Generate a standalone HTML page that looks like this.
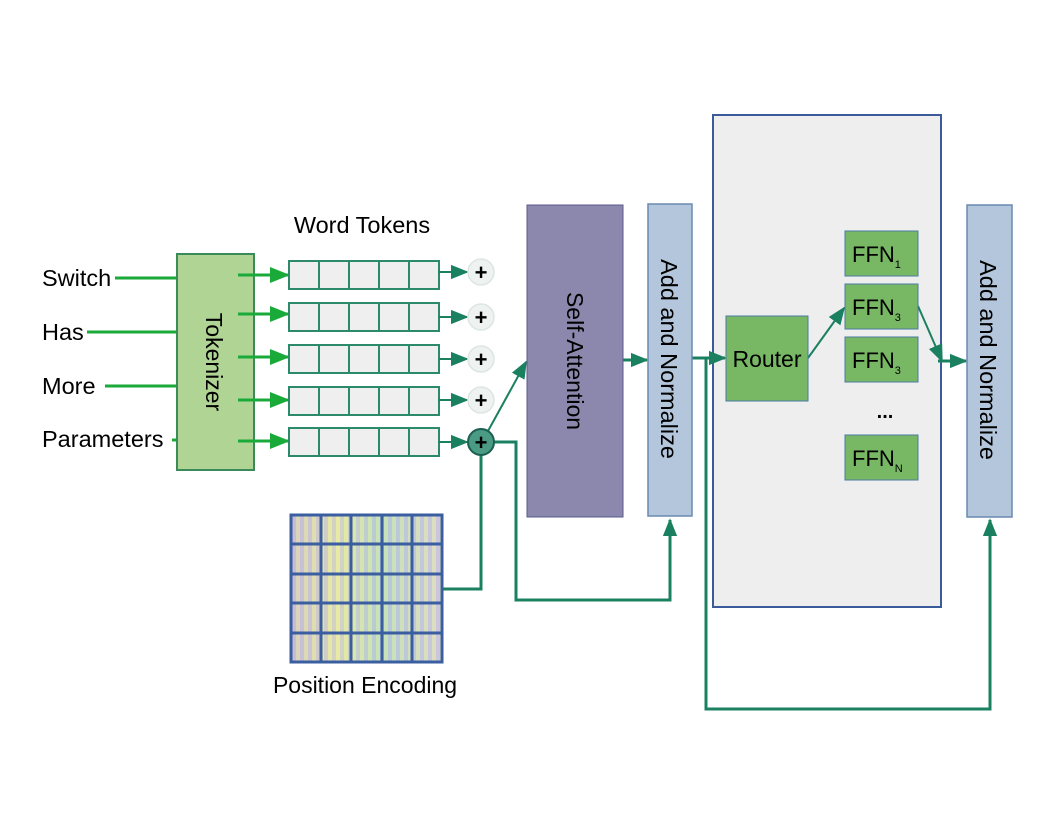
<!DOCTYPE html>
<html><head><meta charset="utf-8"><style>body{margin:0;background:#fff}svg{display:block}text{font-family:"Liberation Sans",sans-serif}</style></head><body>
<svg width="1056" height="816" viewBox="0 0 1056 816" xmlns="http://www.w3.org/2000/svg">
<defs>
<marker id="gb" viewBox="0 0 10 10" markerWidth="20" markerHeight="20" refX="9" refY="5" orient="auto" markerUnits="userSpaceOnUse"><path d="M0,1 L10,5 L0,9 Z" fill="#1aaa3a"/></marker>
<marker id="t" viewBox="0 0 10 10" markerWidth="18" markerHeight="18" refX="9" refY="5" orient="auto" markerUnits="userSpaceOnUse"><path d="M0,1 L10,5 L0,9 Z" fill="#1a8060"/></marker>
<linearGradient id="pe" x1="0" x2="1"><stop offset="0" stop-color="#c8b8d8"/><stop offset="0.3" stop-color="#e8eaa8"/><stop offset="0.6" stop-color="#a8d8d0"/><stop offset="1" stop-color="#d8d0e0"/></linearGradient>
<pattern id="st" width="8" height="8" patternUnits="userSpaceOnUse"><rect width="8" height="8" fill="#c0bcdc"/><rect width="4" height="8" fill="#e6eaa0"/></pattern>
</defs>
<rect x="713" y="115" width="228" height="492" fill="#eeeeee" stroke="#3a5a9a" stroke-width="2"/>
<text x="362" y="233" font-size="23.5" text-anchor="middle">Word Tokens</text>
<g font-size="23.5">
<text x="42" y="286">Switch</text><text x="42" y="340">Has</text><text x="42" y="394">More</text><text x="42" y="447">Parameters</text>
</g>
<g stroke="#1aaa3a" stroke-width="3">
<line x1="115" y1="278" x2="187" y2="278"/><line x1="87" y1="332" x2="187" y2="332"/><line x1="105" y1="386" x2="187" y2="386"/><line x1="172" y1="440" x2="187" y2="440"/>
</g>
<rect x="177" y="254" width="77" height="216" fill="#b0d494" stroke="#3a8a5a" stroke-width="2"/>
<text transform="translate(206,362) rotate(90)" font-size="23" text-anchor="middle">Tokenizer</text>
<g stroke="#1aaa3a" stroke-width="3" marker-end="url(#gb)">
<line x1="238" y1="275" x2="288" y2="275"/><line x1="238" y1="314" x2="288" y2="314"/><line x1="238" y1="357" x2="288" y2="357"/><line x1="238" y1="400" x2="288" y2="400"/><line x1="238" y1="441" x2="288" y2="441"/>
</g>
<g fill="#efefef" stroke="#2a8a6a" stroke-width="2">
<rect x="289" y="261" width="150" height="28"/><rect x="289" y="303" width="150" height="28"/><rect x="289" y="345" width="150" height="28"/><rect x="289" y="387" width="150" height="28"/><rect x="289" y="428" width="150" height="28"/>
</g>
<g stroke="#2a8a6a" stroke-width="2">
<path d="M319 261V289M349 261V289M379 261V289M409 261V289M319 303V331M349 303V331M379 303V331M409 303V331M319 345V373M349 345V373M379 345V373M409 345V373M319 387V415M349 387V415M379 387V415M409 387V415M319 428V456M349 428V456M379 428V456M409 428V456"/>
</g>
<g stroke="#1a8060" stroke-width="2" marker-end="url(#t)">
<line x1="439" y1="272" x2="467" y2="272"/><line x1="439" y1="317" x2="467" y2="317"/><line x1="439" y1="359" x2="467" y2="359"/><line x1="439" y1="400" x2="467" y2="400"/><line x1="439" y1="442" x2="467" y2="442"/>
</g>
<g fill="#eef2f0" stroke="#dde6e2" stroke-width="1.5">
<circle cx="481" cy="272" r="13"/><circle cx="481" cy="317" r="13"/><circle cx="481" cy="359" r="13"/><circle cx="481" cy="400" r="13"/>
</g>
<g fill="none" stroke="#1a8060" stroke-width="3">
<polyline points="481,455 481,589 443,589"/>
<polyline points="494,442 516,442 516,600 670,600 670,520" marker-end="url(#t)"/>
<line x1="488" y1="431" x2="526" y2="362" stroke-width="2" marker-end="url(#t)"/>
<line x1="623" y1="360" x2="647" y2="360" marker-end="url(#t)"/>
<line x1="692" y1="358" x2="725" y2="358" marker-end="url(#t)"/>
<polyline points="706,358 706,709 990,709 990,520" marker-end="url(#t)"/>
<line x1="808" y1="358" x2="844" y2="308" stroke-width="2" marker-end="url(#t)"/>
<line x1="918" y1="306" x2="942" y2="361" stroke-width="2" marker-end="url(#t)"/>
<line x1="938" y1="361" x2="966" y2="361" marker-end="url(#t)"/>
</g>
<circle cx="481" cy="442" r="13" fill="#4a9a84" stroke="#1a6050" stroke-width="2"/>
<g font-size="22" font-weight="bold" text-anchor="middle">
<text x="481" y="280">+</text><text x="481" y="325">+</text><text x="481" y="367">+</text><text x="481" y="408">+</text><text x="481" y="450">+</text>
</g>
<rect x="291" y="515" width="151" height="147" fill="url(#st)"/>
<rect x="291" y="515" width="151" height="147" fill="url(#pe)" opacity="0.5"/>
<g stroke="#3a5ea0" stroke-width="3" fill="none">
<rect x="291" y="515" width="151" height="147"/>
<path d="M321 515V662M351 515V662M382 515V662M412 515V662M291 544H442M291 574H442M291 603H442M291 633H442"/>
</g>
<text x="365" y="693" font-size="23" text-anchor="middle">Position Encoding</text>
<rect x="527" y="205" width="96" height="312" fill="#8b87ad" stroke="#5a5a8a" stroke-width="1"/>
<text transform="translate(567,361) rotate(90)" font-size="23" text-anchor="middle">Self-Attention</text>
<rect x="648" y="204" width="44" height="312" fill="#b4c6dc" stroke="#6a8ab0" stroke-width="1.5"/>
<text transform="translate(661,359) rotate(90)" font-size="23.5" text-anchor="middle">Add and Normalize</text>
<rect x="967" y="205" width="45" height="312" fill="#b4c6dc" stroke="#6a8ab0" stroke-width="1.5"/>
<text transform="translate(980,360) rotate(90)" font-size="23.5" text-anchor="middle">Add and Normalize</text>
<g fill="#78b864" stroke="#4a7aa0" stroke-width="1">
<rect x="726" y="316" width="82" height="85"/>
<rect x="845" y="231" width="73" height="45"/><rect x="845" y="284" width="73" height="45"/><rect x="845" y="337" width="73" height="45"/><rect x="845" y="435" width="73" height="45"/>
</g>
<text x="767" y="367" font-size="23" text-anchor="middle">Router</text>
<g font-size="22">
<text x="852" y="262">FFN<tspan font-size="11" dy="6">1</tspan></text>
<text x="852" y="315">FFN<tspan font-size="11" dy="6">3</tspan></text>
<text x="852" y="368">FFN<tspan font-size="11" dy="6">3</tspan></text>
<text x="852" y="466">FFN<tspan font-size="11" dy="6">N</tspan></text>
</g>
<text x="885" y="418" font-size="20" font-weight="bold" text-anchor="middle">...</text>
</svg>
</body></html>
